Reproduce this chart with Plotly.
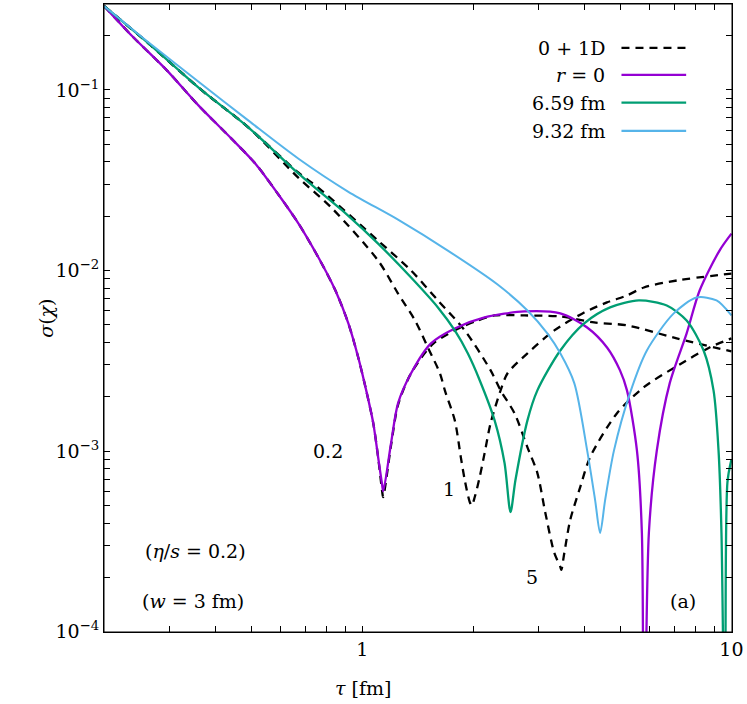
import plotly.graph_objects as go

# r = 0
tau_r0 = [0.2, 0.238, 0.294, 0.361, 0.443, 0.515, 0.594, 0.672, 0.761, 0.846, 0.917, 0.975,
          1.025, 1.071, 1.104, 1.132, 1.14, 1.197, 1.25, 1.356, 1.535, 1.781, 2.145, 2.75,
          3.439, 4.066, 4.603, 4.99, 5.212, 5.546, 5.72, 5.79, 5.975, 6.279, 6.806, 7.562,
          8.2, 9.284, 10.0]
sig_r0 = [0.291, 0.199, 0.13, 0.0816, 0.0536, 0.0388, 0.0262, 0.0182, 0.0118, 0.00775, 0.0051,
          0.00331, 0.00217, 0.00143, 0.000927, 0.00065, 0.0006, 0.00111, 0.00184, 0.0027,
          0.00395, 0.00478, 0.0055, 0.00594, 0.00579, 0.00484, 0.00375, 0.0028, 0.00217,
          0.00101, 0.000352, 0.00001, 0.000352, 0.00101, 0.00238, 0.00449, 0.00775, 0.0129,
          0.016]

# 6.59 fm
tau_g = [0.2, 0.265, 0.361, 0.493, 0.672, 0.917, 1.104, 1.356, 1.603, 1.781, 1.931, 2.080,
         2.283, 2.429, 2.521, 2.600, 2.802, 2.981, 3.439, 3.992, 4.691, 5.614, 6.681, 7.562,
         8.406, 8.943, 9.226, 9.397, 9.63, 9.754, 10.0]
sig_g = [0.291, 0.1795, 0.1026, 0.0617, 0.0344, 0.0201, 0.0141, 0.00915, 0.00625, 0.00466,
         0.00348, 0.00247, 0.00148, 0.000859, 0.00046, 0.000692, 0.00148, 0.00217, 0.00361,
         0.0051, 0.00625, 0.00683, 0.0064, 0.00529, 0.00361, 0.00217, 0.00101, 0.000352,
         0.00001, 0.000674, 0.0009]

# 9.32 fm
tau_b = [0.2, 0.265, 0.361, 0.493, 0.672, 0.917, 1.25, 1.705, 2.326, 2.802, 3.172, 3.439,
         3.752, 4.066, 4.273, 4.408, 4.548, 4.807, 5.309, 5.901, 6.977, 8.049, 9.112, 10.0]
sig_b = [0.291, 0.1819, 0.1107, 0.0674, 0.0416, 0.0273, 0.01913, 0.0129, 0.00837, 0.00601,
         0.00449, 0.00348, 0.00238, 0.00101, 0.000536, 0.000352, 0.000536, 0.00101, 0.00209,
         0.00361, 0.00579, 0.00709, 0.00683, 0.00564]

# 0 + 1D, labels 0.2 / 1 / 5
tau_d02 = [0.2, 0.238, 0.294, 0.361, 0.443, 0.515, 0.594, 0.672, 0.761, 0.846, 0.917, 0.975,
           1.025, 1.071, 1.104, 1.132, 1.139, 1.197, 1.25, 1.356, 1.56, 1.849, 2.054, 2.283,
           2.750, 3.439, 4.246, 5.212, 7.108, 10.0]
sig_d02 = [0.291, 0.199, 0.13, 0.0816, 0.0536, 0.0388, 0.0262, 0.0182, 0.0118, 0.00775, 0.0051,
           0.00331, 0.00217, 0.00143, 0.000927, 0.0006, 0.000557, 0.00108, 0.0018, 0.0027,
           0.00395, 0.00484, 0.00529, 0.00564, 0.00564, 0.00557, 0.00516, 0.00497, 0.00421,
           0.00357]

tau_d1 = [0.2, 0.265, 0.361, 0.493, 0.672, 0.825, 1.104, 1.25, 1.390, 1.506, 1.623, 1.674,
          1.781, 1.849, 1.895, 1.955, 1.98, 2.017, 2.080, 2.145, 2.227, 2.370, 2.475, 2.802,
          3.313, 3.992, 4.600, 5.212, 5.792, 7.108, 10.0]
sig_d1 = [0.291, 0.1795, 0.1026, 0.0617, 0.0326, 0.0223, 0.01136, 0.00746, 0.00529, 0.00375,
          0.0027, 0.00217, 0.00148, 0.000927, 0.000692, 0.000523, 0.0005, 0.000557, 0.000718,
          0.000975, 0.00143, 0.00217, 0.0027, 0.00348, 0.00466, 0.00586, 0.00666, 0.00728,
          0.00806, 0.00881, 0.00962]

tau_d5 = [0.2, 0.265, 0.361, 0.493, 0.672, 0.761, 1.104, 1.356, 1.603, 1.895, 2.227, 2.370,
          2.585, 2.802, 2.981, 3.133, 3.313, 3.439, 3.461, 3.526, 3.659, 3.894, 4.143, 4.898,
          5.792, 7.241, 8.724, 10.0]
sig_d5 = [0.291, 0.1795, 0.1026, 0.0617, 0.0348, 0.0287, 0.01464, 0.01, 0.00683, 0.00466,
          0.0028, 0.00217, 0.00162, 0.00105, 0.000756, 0.000455, 0.000273, 0.000229, 0.00022,
          0.000273, 0.000416, 0.000632, 0.000927, 0.00162, 0.00226, 0.00302, 0.00375, 0.00421]

x_ticks = [1, 10]
x_ticktext = ["1", "10"]
y_ticks = [1e-4, 1e-3, 1e-2, 1e-1]
y_ticktext = ["10<sup>\u22124</sup>", "10<sup>\u22123</sup>", "10<sup>\u22122</sup>", "10<sup>\u22121</sup>"]

x_minor = [0.3, 0.4, 0.5, 0.6, 0.7, 0.8, 0.9] + list(range(2, 10))
y_minor = [m * 10.0 ** e for e in (-4, -3, -2, -1) for m in range(2, 10) if m * 10.0 ** e < 0.3]

X_RANGE = [-0.6995, 1.0015]
Y_RANGE = [-4.0015, -0.524]

PURPLE = "#9400d3"
GREEN = "#009e73"
BLUE = "#56b4e9"
FONT = "DejaVu Serif"

fig = go.Figure()
for t, s in [(tau_d02, sig_d02), (tau_d1, sig_d1), (tau_d5, sig_d5)]:
    fig.add_trace(go.Scatter(x=t, y=s, mode="lines", line=dict(color="black", width=2.3, dash="8px,6px",
                                                                  shape="spline", smoothing=0.8)))
fig.add_trace(go.Scatter(x=tau_r0, y=sig_r0, mode="lines",
                         line=dict(color=PURPLE, width=2.3, shape="spline", smoothing=0.8)))
fig.add_trace(go.Scatter(x=tau_g, y=sig_g, mode="lines",
                         line=dict(color=GREEN, width=2.3, shape="spline", smoothing=0.8)))
fig.add_trace(go.Scatter(x=tau_b, y=sig_b, mode="lines",
                         line=dict(color=BLUE, width=2.0, shape="spline", smoothing=0.8)))

# all ticks as one set; minor ticks get empty labels
x_all = x_ticks + x_minor
x_all_text = x_ticktext + [""] * len(x_minor)
y_all = y_ticks + y_minor
y_all_text = y_ticktext + [""] * len(y_minor)

tickfont = dict(family=FONT, size=19, color="black")
frame = dict(showline=True, linecolor="black", linewidth=1, mirror="ticks", ticks="inside",
             ticklen=6, tickwidth=1, tickcolor="black", showgrid=False, zeroline=False)
fig.update_layout(
    xaxis=dict(type="log", range=X_RANGE, tickmode="array", tickvals=x_all, ticktext=x_all_text,
               tickfont=tickfont, **frame),
    yaxis=dict(type="log", range=Y_RANGE, tickmode="array", tickvals=y_all, ticktext=y_all_text,
               ticksuffix="\u2002", tickfont=tickfont, **frame),
)

# plot frame
fig.add_shape(type="rect", xref="paper", yref="paper", x0=0, x1=1, y0=0, y1=1,
              line=dict(color="black", width=1), layer="above")

txt = dict(family=FONT, size=19, color="black")
annots = [
    ("0.2", 0.3566, 0.2878, "center"),
    ("1", 0.55, 0.2273, "center"),
    ("5", 0.6815, 0.0874, "center"),
    ("(<i>\u03b7</i>/<i>s</i> = 0.2)", 0.1458, 0.1288, "center"),
    ("(<i>w</i> = 3 fm)", 0.141, 0.0493, "center"),
    ("(a)", 0.9223, 0.0493, "center"),
    ("0 + 1D", 0.8003, 0.930, "right"),
    ("<i>r</i> = 0", 0.8003, 0.887, "right"),
    ("6.59 fm", 0.8003, 0.843, "right"),
    ("9.32 fm", 0.8003, 0.798, "right"),
]
for text, x, y, anchor in annots:
    fig.add_annotation(text=text, x=x, y=y, xref="paper", yref="paper", xanchor=anchor,
                       yanchor="middle", showarrow=False, font=txt)
fig.add_annotation(text="<i>\u03c3</i>(<i>\u03c7</i>)", x=-0.1141, y=0.4992, xref="paper", yref="paper",
                   textangle=-90, showarrow=False, font=txt)
fig.add_annotation(text="<i>\u03c4</i> [fm]", x=0.412, y=-0.089, xref="paper", yref="paper",
                   yanchor="middle", showarrow=False, font=txt)

# legend samples
legend_rows = [("black", "8px,6px", 0.930), (PURPLE, "solid", 0.887), (GREEN, "solid", 0.843), (BLUE, "solid", 0.798)]
for col, dash, y in legend_rows:
    fig.add_shape(type="line", xref="paper", yref="paper", x0=0.824, x1=0.927, y0=y, y1=y,
                  line=dict(color=col, width=2.3, dash=dash))

fig.update_layout(width=747, height=704, margin=dict(l=104, r=12, t=3, b=72),
                  plot_bgcolor="white", paper_bgcolor="white", showlegend=False)

fig.write_html("out.html", config={"displayModeBar": False},
               post_script="document.body.style.margin='0px';")
